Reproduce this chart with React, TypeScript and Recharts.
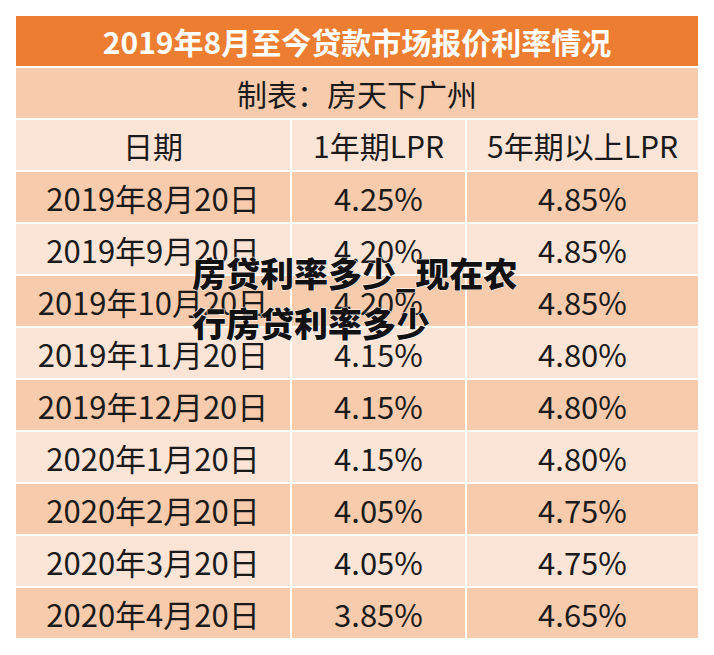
import { BarChart, Bar, XAxis, YAxis, Cell, LabelList } from "recharts";

// 表格内容
const title = "2019年8月至今贷款市场报价利率情况";
const note = "制表：房天下广州";
const headers = ["日期", "1年期LPR", "5年期以上LPR"];
const dates = [
  "2019年8月20日",
  "2019年9月20日",
  "2019年10月20日",
  "2019年11月20日",
  "2019年12月20日",
  "2020年1月20日",
  "2020年2月20日",
  "2020年3月20日",
  "2020年4月20日",
];
const lpr1y = ["4.25%", "4.20%", "4.20%", "4.15%", "4.15%", "4.15%", "4.05%", "4.05%", "3.85%"];
const lpr5y = ["4.85%", "4.85%", "4.85%", "4.80%", "4.80%", "4.80%", "4.75%", "4.75%", "4.65%"];
const watermark = ["房贷利率多少_现在农", "行房贷利率多少"];

// 列宽（像素，X 轴 -15..699 对应画布 0..714）
const COLS = [276, 175, 233];
const FULL = COLS[0] + COLS[1] + COLS[2];

const ORANGE = "#ED7D31";
const PEACH = "#F8CBAD";
const LIGHT = "#FCE4D6";

const rows = [
  { full: FULL, c1: 0, c2: 0, c3: 0, tf: title, fill: ORANGE },
  { full: FULL, c1: 0, c2: 0, c3: 0, tf: note, fill: PEACH },
  { full: 0, c1: COLS[0], c2: COLS[1], c3: COLS[2], t1: headers[0], t2: headers[1], t3: headers[2], fill: LIGHT },
  ...dates.map((d, i) => ({
    full: 0,
    c1: COLS[0],
    c2: COLS[1],
    c3: COLS[2],
    t1: d,
    t2: lpr1y[i],
    t3: lpr5y[i],
    fill: i % 2 === 0 ? PEACH : LIGHT,
  })),
].map((r, i) => ({ ...r, name: "r" + i }));

const FONT = '"Noto Sans CJK SC", "Noto Sans", sans-serif';

// 单元格文字
const cellLabel = (props: any) => {
  const { x, y, width, height, value } = props;
  if (!value || !width) return null;
  const text = String(value);
  const isTitle = text === title;
  const isHeader = headers.includes(text) || text === note;
  return (
    <text
      x={x + width / 2}
      y={y + height / 2}
      textAnchor="middle"
      dominantBaseline="central"
      fontFamily={FONT}
      fontSize={isTitle ? 30 : isHeader ? 30 : 31}
      fontWeight={isTitle ? 700 : 400}
      fill={isTitle ? "#ffffff" : "#1a1a1a"}
    >
      {text}
    </text>
  );
};

export default function App() {
  return (
    <div style={{ position: "absolute", left: 0, top: 0, width: 714, height: 655, background: "#fff" }}>
      <BarChart
        width={714}
        height={655}
        data={rows}
        layout="vertical"
        margin={{ top: 15, right: 0, bottom: 16, left: 0 }}
        barCategoryGap={0}
      >
        <XAxis type="number" domain={[-15, 699]} hide allowDataOverflow />
        <YAxis type="category" dataKey="name" hide width={0} />
        <Bar dataKey="full" stackId="a" stroke="#fff" strokeWidth={2} isAnimationActive={false}>
          {rows.map((r) => (
            <Cell key={r.name} fill={r.fill} />
          ))}
          <LabelList dataKey="tf" content={cellLabel} />
        </Bar>
        {["c1", "c2", "c3"].map((k, ci) => (
          <Bar key={k} dataKey={k} stackId="a" stroke="#fff" strokeWidth={2} isAnimationActive={false}>
            {rows.map((r) => (
              <Cell key={r.name} fill={r.fill} />
            ))}
            <LabelList dataKey={"t" + (ci + 1)} content={cellLabel} />
          </Bar>
        ))}
      </BarChart>
      {/* 水印文字 */}
      <svg
        width={714}
        height={655}
        style={{ position: "absolute", left: 0, top: 0, pointerEvents: "none" }}
      >
        {watermark.map((line, i) => (
          <text
            key={i}
            x={192}
            y={272 + i * 50}
            dominantBaseline="central"
            fontFamily={FONT}
            fontSize={34}
            fontWeight={900}
            fill="#111"
            stroke="#fff"
            strokeWidth={1}
            paintOrder="stroke"
          >
            {line}
          </text>
        ))}
      </svg>
    </div>
  );
}
